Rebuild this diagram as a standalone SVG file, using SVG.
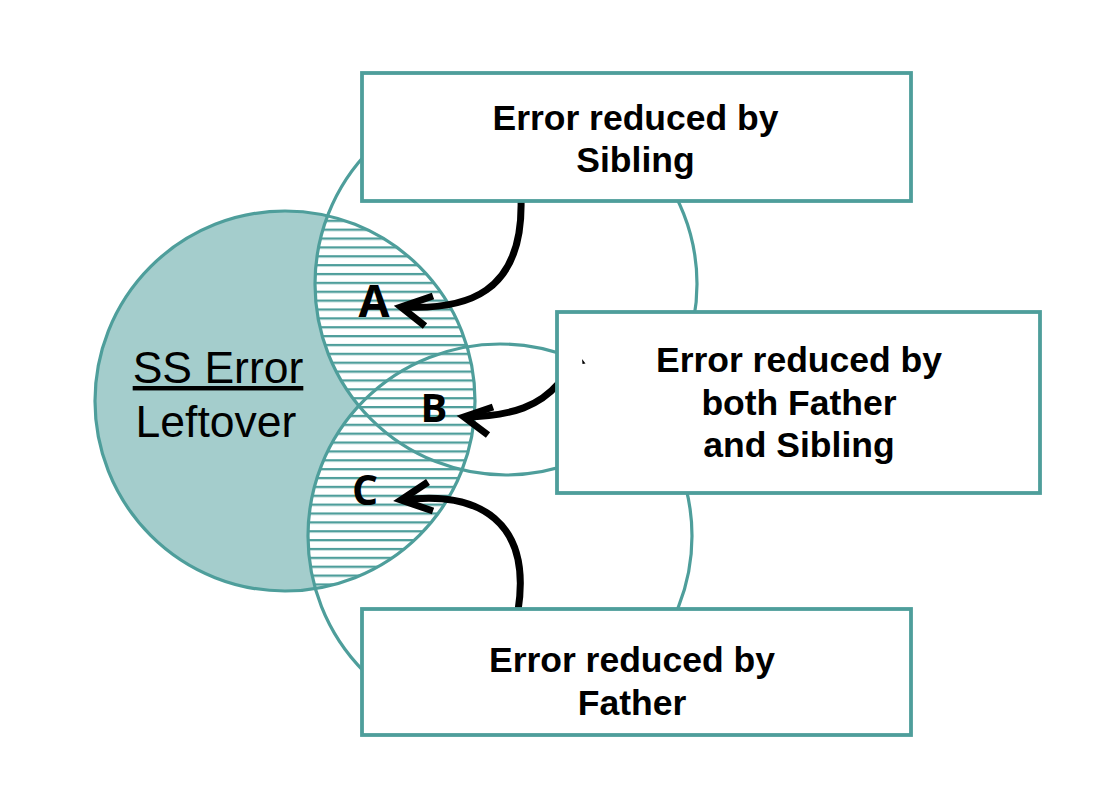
<svg xmlns="http://www.w3.org/2000/svg" width="1112" height="800" viewBox="0 0 1112 800">
  <style>
    .circ { fill: none; stroke: #4e9e9b; stroke-width: 3.2; }
    .box { fill: #ffffff; stroke: #4e9e9b; stroke-width: 3.8; }
    .btxt { font-family: "Liberation Sans", Arial, sans-serif; font-weight: bold; font-size: 35.5px; fill: #000; text-anchor: middle; }
    .ltxt { font-family: "Liberation Sans", Arial, sans-serif; font-size: 44.5px; fill: #000; text-anchor: middle; }
    .lab { font-family: "Open Sans", "Liberation Sans", sans-serif; font-weight: bold; fill: #000; text-anchor: middle; }
    .arr { fill: none; stroke: #000; stroke-width: 7; }
  </style>
  <defs>
    <pattern id="hatch" patternUnits="userSpaceOnUse" x="0" y="210.85" width="20" height="8.87">
      <rect width="20" height="8.87" fill="#ffffff"/>
      <rect y="0" width="20" height="2.3" fill="#4e9e9b"/>
    </pattern>
    <clipPath id="clipMain"><circle cx="285" cy="401" r="190"/></clipPath>
    <clipPath id="clipSF"><circle cx="506" cy="284" r="191"/><circle cx="500" cy="536" r="192"/></clipPath>
  </defs>
  <rect width="1112" height="800" fill="#ffffff"/>

  <g id="ss-error">
    <circle cx="285" cy="401" r="190" fill="#a4cdcc"/>
    <g clip-path="url(#clipMain)">
      <rect x="90" y="200" width="400" height="400" fill="url(#hatch)" clip-path="url(#clipSF)"/>
    </g>
    <circle cx="506" cy="284" r="191" class="circ"/>
    <circle cx="500" cy="536" r="192" class="circ"/>
    <circle cx="285" cy="401" r="190" class="circ" stroke-width="4"/>
    <text x="218" y="383" class="ltxt" text-decoration="underline">SS Error</text>
    <text x="216" y="437" class="ltxt">Leftover</text>
  </g>

  <g id="labels">
    <text x="374" y="317" class="lab" font-size="45">A</text>
    <text x="434" y="422" class="lab" font-size="40">B</text>
    <text x="365" y="505" class="lab" font-size="41">C</text>
  </g>

  <g id="connectors">
    <path class="arr" d="M521,198 C524,295 465,310 403,307"/>
    <path class="arr" d="M433,296 L401,307 L425,326" stroke-linejoin="miter"/>
    <path class="arr" d="M559,383 C540,405 515,416 465,417"/>
    <path class="arr" d="M493,407 L464,417 L488,435" stroke-linejoin="miter"/>
    <path class="arr" d="M518,611 C532,522 480,490 402,500"/>
    <path class="arr" d="M428,482 L401,500 L433,511" stroke-linejoin="miter"/>
  </g>

  <g id="box-sibling">
    <rect x="362" y="73" width="549" height="128" class="box"/>
    <text x="635.5" y="130" class="btxt">Error reduced by</text>
    <text x="635.5" y="172" class="btxt">Sibling</text>
  </g>

  <g id="box-both">
    <rect x="557" y="312" width="483" height="181" class="box"/>
    <path d="M582,359 L585.5,363.5 L582.5,364 Z" fill="#000"/>
    <text x="799" y="372" class="btxt">Error reduced by</text>
    <text x="799" y="415" class="btxt">both Father</text>
    <text x="799" y="457" class="btxt">and Sibling</text>
  </g>

  <g id="box-father">
    <rect x="362" y="609" width="549" height="126" class="box"/>
    <text x="632" y="672" class="btxt">Error reduced by</text>
    <text x="632" y="715" class="btxt">Father</text>
  </g>
</svg>
